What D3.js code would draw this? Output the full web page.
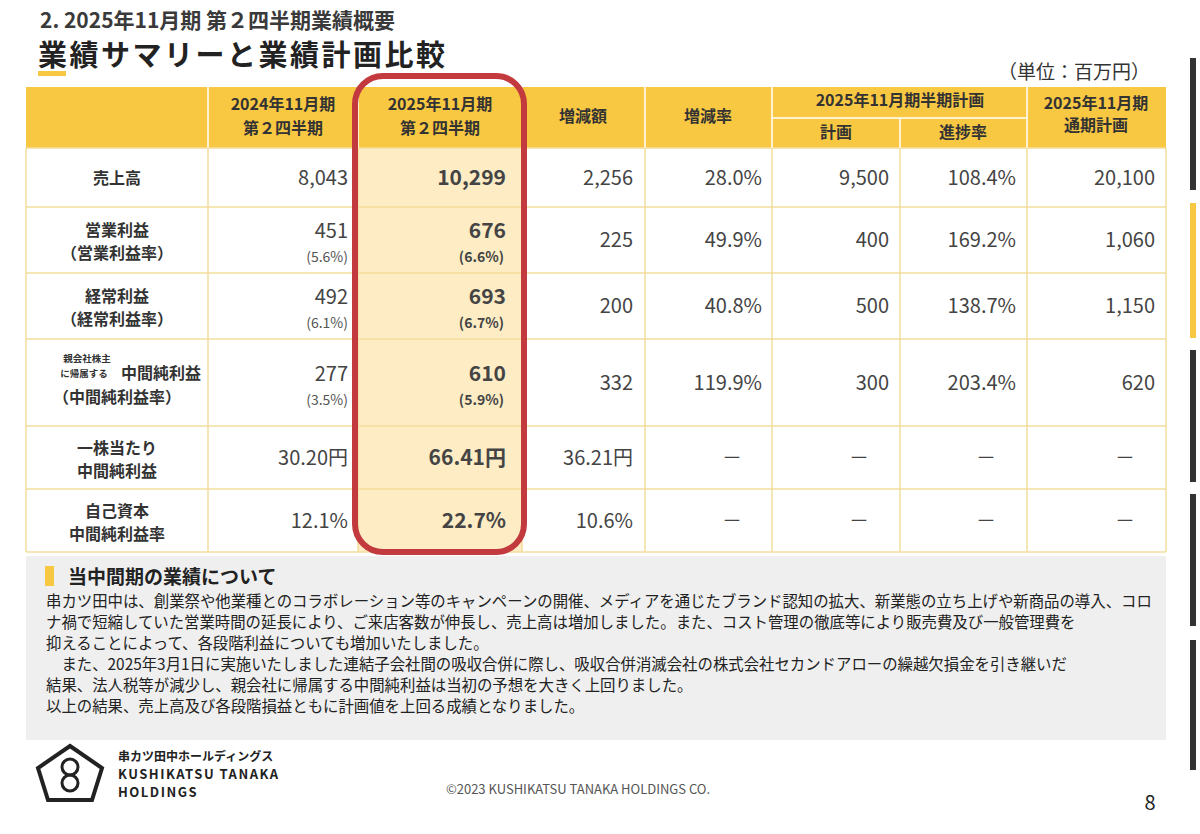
<!DOCTYPE html><html><head><meta charset="utf-8">
<script src="https://cdn.jsdelivr.net/npm/d3@7"></script>
<style>body{margin:0;background:#fff}text{font-family:"Noto Sans CJK JP","Noto Sans",sans-serif}</style></head><body>
<script>
const rowLabels=[["売上高"],["営業利益","（営業利益率）"],["経常利益","（経常利益率）"],["中間純利益","（中間純利益率）"],["一株当たり","中間純利益"],["自己資本","中間純利益率"]];
const prevVals=["8,043","451","492","277","30.20円","12.1%"];
const prevRatio=["","(5.6%)","(6.1%)","(3.5%)","",""];
const curVals=["10,299","676","693","610","66.41円","22.7%"];
const curRatio=["","(6.6%)","(6.7%)","(5.9%)","",""];
const diffVals=["2,256","225","200","332","36.21円","10.6%"];
const rateVals=["28.0%","49.9%","40.8%","119.9%","ー","ー"];
const planVals=["9,500","400","500","300","ー","ー"];
const progVals=["108.4%","169.2%","138.7%","203.4%","ー","ー"];
const fullVals=["20,100","1,060","1,150","620","ー","ー"];
const bodyText=["串カツ田中は、創業祭や他業種とのコラボレーション等のキャンペーンの開催、メディアを通じたブランド認知の拡大、新業態の立ち上げや新商品の導入、コロ","ナ禍で短縮していた営業時間の延長により、ご来店客数が伸長し、売上高は増加しました。また、コスト管理の徹底等により販売費及び一般管理費を","抑えることによって、各段階利益についても増加いたしました。","　また、2025年3月1日に実施いたしました連結子会社間の吸収合併に際し、吸収合併消滅会社の株式会社セカンドアローの繰越欠損金を引き継いだ","結果、法人税等が減少し、親会社に帰属する中間純利益は当初の予想を大きく上回りました。","以上の結果、売上高及び各段階損益ともに計画値を上回る成績となりました。"];

const svg=d3.select("body").append("svg").attr("width",1200).attr("height",834);
const cols=[26,208,358,522,645,772,900,1027,1166];
const rows=[148,207,273,339,426,489,552];
const yel="#f9c842",line="#f3dd9c";
svg.append("text").attr("x",40).attr("y",28).attr("font-size",21).attr("font-weight",700).attr("fill","#3a3a3a").text("2. 2025年11月期 第２四半期業績概要");
svg.append("rect").attr("x",38).attr("y",71).attr("width",28).attr("height",5).attr("fill",yel);
svg.append("text").attr("x",38).attr("y",66).attr("font-size",29).attr("font-weight",700).attr("fill","#222").attr("letter-spacing",2.5).text("業績サマリーと業績計画比較");
svg.append("text").attr("x",1150).attr("y",79).attr("text-anchor","end").attr("font-size",19).attr("fill","#333").text("（単位：百万円）");
svg.append("rect").attr("x",26).attr("y",87).attr("width",1140).attr("height",61).attr("fill",yel);
svg.append("rect").attr("x",358).attr("y",148).attr("width",164).attr("height",404).attr("fill","#fdecc4");
const g=svg.append("g").attr("stroke",line).attr("stroke-width",1.5);
rows.forEach(y=>g.append("line").attr("x1",26).attr("x2",1166).attr("y1",y).attr("y2",y));
cols.forEach(x=>g.append("line").attr("x1",x).attr("x2",x).attr("y1",148).attr("y2",552));
const wg=svg.append("g").attr("stroke","#fff").attr("stroke-width",1.5);
cols.slice(1,-1).forEach(x=>{ if(x!==900) wg.append("line").attr("x1",x).attr("x2",x).attr("y1",87).attr("y2",148);});
wg.append("line").attr("x1",900).attr("x2",900).attr("y1",118).attr("y2",148);
wg.append("line").attr("x1",772).attr("x2",1027).attr("y1",118).attr("y2",118);
const hdr=(x,y,t)=>svg.append("text").attr("x",x).attr("y",y).attr("text-anchor","middle").attr("font-size",16).attr("font-weight",700).attr("fill","#333").text(t);
hdr(283,110,"2024年11月期");hdr(283,134,"第２四半期");
hdr(440,110,"2025年11月期");hdr(440,134,"第２四半期");
hdr(583,122,"増減額");hdr(708,122,"増減率");
hdr(900,106,"2025年11月期半期計画");hdr(836,138,"計画");hdr(963,138,"進捗率");
hdr(1096,109,"2025年11月期");hdr(1096,131,"通期計画");
rows.slice(0,-1).forEach((y0,i)=>{
  const y1=rows[i+1],cy=(y0+y1)/2,two=rowLabels[i].length>1;
  if(i===3){
    svg.append("text").attr("x",87).attr("y",cy-21).attr("text-anchor","middle").attr("font-size",9.5).attr("font-weight",700).attr("fill","#333").text("親会社株主");
    svg.append("text").attr("x",84).attr("y",cy-6).attr("text-anchor","middle").attr("font-size",9.5).attr("font-weight",700).attr("fill","#333").text("に帰属する");
    svg.append("text").attr("x",121).attr("y",cy-4).attr("font-size",16).attr("font-weight",700).attr("fill","#333").text(rowLabels[i][0]);
    svg.append("text").attr("x",117).attr("y",cy+20).attr("text-anchor","middle").attr("font-size",16).attr("font-weight",700).attr("fill","#333").text(rowLabels[i][1]);
  } else rowLabels[i].forEach((t,k)=>svg.append("text").attr("x",117).attr("y",two?cy-4+k*23:cy+6).attr("text-anchor","middle").attr("font-size",16).attr("font-weight",700).attr("fill","#333").text(t));
  const hasR=prevRatio[i]!=="";
  const num=(x,t,b)=>svg.append("text").attr("x",x).attr("y",hasR?cy-2:cy+7).attr("text-anchor","end").attr("font-size",b?21:20).attr("font-weight",b?700:400).attr("fill","#444").text(t);
  num(348,prevVals[i]);num(506,curVals[i],true);
  if(hasR){
    svg.append("text").attr("x",348).attr("y",cy+22).attr("text-anchor","end").attr("font-size",14).attr("fill","#555").text(prevRatio[i]);
    svg.append("text").attr("x",504).attr("y",cy+22).attr("text-anchor","end").attr("font-size",14).attr("font-weight",700).attr("fill","#444").text(curRatio[i]);
  }
  const v=(x,t)=>svg.append("text").attr("x",t==="ー"?x-30:x).attr("y",cy+7).attr("text-anchor",t==="ー"?"middle":"end").attr("font-size",20).attr("fill","#444").text(t==="ー"?"－":t);
  v(633,diffVals[i]);v(762,rateVals[i]);v(889,planVals[i]);v(1016,progVals[i]);v(1155,fullVals[i]);
});
svg.append("rect").attr("x",355).attr("y",76).attr("width",169).attr("height",476).attr("rx",28).attr("fill","none").attr("stroke","#c23a3e").attr("stroke-width",6);
svg.append("rect").attr("x",26).attr("y",556).attr("width",1140).attr("height",184).attr("fill","#efefef");
svg.append("rect").attr("x",45).attr("y",566).attr("width",9).attr("height",20).attr("fill",yel);
svg.append("text").attr("x",68).attr("y",584).attr("font-size",19).attr("font-weight",700).attr("fill","#222").text("当中間期の業績について");
bodyText.forEach((t,i)=>svg.append("text").attr("x",46).attr("y",607+i*21).attr("font-size",15.4).attr("fill","#222").text(t));
const lg=svg.append("g").attr("fill","none").attr("stroke","#222").attr("stroke-width",4);
lg.append("path").attr("d","M70,746 L102,768 L92,800 L48,800 L38,768 Z");
lg.append("circle").attr("cx",70).attr("cy",767).attr("r",8).attr("stroke-width",3);
lg.append("circle").attr("cx",70).attr("cy",783).attr("r",8).attr("stroke-width",3);
svg.append("text").attr("x",118).attr("y",761).attr("font-size",12).attr("font-weight",700).attr("fill","#222").text("串カツ田中ホールディングス");
svg.append("text").attr("x",118).attr("y",779).attr("font-size",13).attr("font-weight",700).attr("letter-spacing",1.5).attr("fill","#222").text("KUSHIKATSU TANAKA");
svg.append("text").attr("x",118).attr("y",797).attr("font-size",13).attr("font-weight",700).attr("letter-spacing",1.5).attr("fill","#222").text("HOLDINGS");
svg.append("text").attr("x",578).attr("y",794).attr("text-anchor","middle").attr("font-size",13).attr("fill","#555").text("©2023 KUSHIKATSU TANAKA HOLDINGS CO.");
svg.append("text").attr("x",1150).attr("y",810).attr("text-anchor","middle").attr("font-size",20).attr("fill","#222").text("8");
[[58,190,"#333"],[203,338,yel],[350,482,"#333"],[494,626,"#333"],[640,770,"#333"]].forEach(d=>svg.append("rect").attr("x",1190).attr("y",d[0]).attr("width",6).attr("height",d[1]-d[0]).attr("fill",d[2]));
</script></body></html>
